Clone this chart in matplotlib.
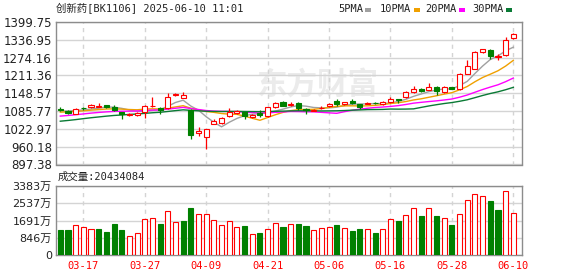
# -*- coding: utf-8 -*-
"""
K-Linien-Chart 创新药 [BK1106] mit gleitenden Durchschnitten und Volumen
"""

import numpy as np
import matplotlib
matplotlib.use("Agg")
import matplotlib.pyplot as plt
from matplotlib.patches import Rectangle

# ---------------- Daten -------------------------------------------------------
datum = ["03-12", "03-13", "03-14", "03-17", "03-18", "03-19", "03-20", "03-21",
         "03-24", "03-25", "03-26", "03-27", "03-28", "03-31", "04-01", "04-02",
         "04-03", "04-07", "04-08", "04-09", "04-10", "04-11", "04-14", "04-15",
         "04-16", "04-17", "04-18", "04-21", "04-22", "04-23", "04-24", "04-25",
         "04-28", "04-29", "04-30", "05-06", "05-07", "05-08", "05-09", "05-12",
         "05-13", "05-14", "05-15", "05-16", "05-19", "05-20", "05-21", "05-22",
         "05-23", "05-26", "05-27", "05-28", "05-29", "05-30", "06-03", "06-04",
         "06-05", "06-06", "06-09", "06-10"]

eroeffnung = [1094, 1086, 1076, 1098, 1100, 1101, 1106, 1100, 1081, 1071,
              1073, 1083, 1102, 1098, 1096, 1142, 1133, 1091, 1009, 994,
              1041, 1043, 1070, 1080, 1082, 1064, 1079, 1068, 1100, 1117,
              1106, 1114, 1093, 1087, 1095, 1102, 1121, 1110, 1123, 1110,
              1112, 1114, 1110, 1116, 1129, 1134, 1152, 1162, 1161, 1170,
              1153, 1170, 1165, 1218, 1235, 1294, 1301, 1276, 1282, 1343]
hoch = [1100, 1088, 1096, 1101, 1110, 1114, 1108, 1108, 1083, 1079,
        1082, 1108, 1135, 1100, 1150, 1150, 1154, 1094, 1031, 1023,
        1058, 1064, 1096, 1091, 1084, 1076, 1088, 1101, 1117, 1120,
        1118, 1116, 1095, 1093, 1103, 1113, 1128, 1119, 1129, 1112,
        1118, 1116, 1120, 1134, 1130, 1156, 1173, 1166, 1186, 1173,
        1174, 1172, 1221, 1267, 1297, 1304, 1303, 1288, 1347, 1362]
tief = [1086, 1077, 1074, 1090, 1098, 1100, 1098, 1085, 1058, 1067,
        1069, 1060, 1101, 1077, 1094, 1139, 1131, 988, 997, 952,
        1039, 1041, 1066, 1077, 1058, 1062, 1066, 1066, 1097, 1103,
        1104, 1091, 1075, 1085, 1093, 1100, 1102, 1108, 1111, 1093,
        1110, 1111, 1108, 1114, 1114, 1132, 1150, 1152, 1159, 1143,
        1150, 1163, 1159, 1216, 1233, 1290, 1270, 1265, 1280, 1340]
schluss = [1088, 1080, 1094, 1096, 1107, 1103, 1100, 1091, 1076, 1077,
           1079, 1103, 1105, 1090, 1136, 1146, 1143, 1002, 1017, 1021,
           1049, 1062, 1082, 1085, 1070, 1073, 1072, 1099, 1114, 1105,
           1111, 1097, 1088, 1091, 1098, 1111, 1109, 1117, 1115, 1101,
           1115, 1113, 1116, 1128, 1126, 1153, 1165, 1158, 1169, 1155,
           1172, 1165, 1216, 1245, 1293, 1303, 1281, 1279, 1335, 1357]

# Schlusskurse vor dem sichtbaren Zeitraum (für die gleitenden Durchschnitte)
schluss_vorher = [1000, 1005, 995, 1010, 1020, 1015, 1018, 1025, 1022, 1030,
                  1035, 1042, 1040, 1050, 1055, 1060, 1058, 1065, 1068, 1067,
                  1070, 1075, 1080, 1082, 1083, 1080, 1084, 1087, 1091]

# Volumen in 万
volumen = [1226, 1226, 1454, 1356, 1258, 1275, 1127, 1520, 1226, 915,
           1078, 1748, 1797, 1520, 2140, 1601, 1667, 2320, 2010, 2010,
           1716, 1470, 1650, 1356, 1422, 1029, 1095, 1275, 1569, 1373,
           1520, 1520, 1422, 1226, 1307, 1356, 1470, 1307, 1177, 1275,
           1258, 1095, 1258, 1748, 1667, 1945, 2288, 1912, 2288, 1912,
           1797, 1470, 2010, 2680, 2974, 2876, 2647, 2206, 3121, 2043.4084]

ma_tage = [5, 10, 20, 30]
ma_namen = ["5PMA", "10PMA", "20PMA", "30PMA"]
kurs_ticks = [897.38, 960.18, 1022.97, 1085.77, 1148.57, 1211.36, 1274.16, 1336.95, 1399.75]
vol_ticks = [0, 846, 1691, 2537, 3383]
datum_ticks = ["03-17", "03-27", "04-09", "04-21", "05-06", "05-16", "05-28", "06-10"]

# ---------------- Farben ------------------------------------------------------
rot = "#ff0000"
gruen = "#008000"
ma_farben = ["#a0a0a0", "#f0a000", "#ff00ff", "#0a7a35"]
gitter = "#d4d4d4"
rahmen = "#8c8c8c"
mono_cjk = ["DejaVu Sans Mono", "Noto Sans CJK SC"]
sans_cjk = ["DejaVu Sans", "Noto Sans CJK SC"]

W, H = 578, 276
fig = plt.figure(figsize=(W / 100, H / 100), dpi=100)
ax = fig.add_axes([56 / W, 1 - 164.5 / H, 466 / W, 142.5 / H])
ax_vol = fig.add_axes([56 / W, 1 - 255 / H, 466 / W, 69 / H])

x = np.arange(len(schluss))
xlim = (-0.56, len(schluss) + 0.13)
tick_pos = [datum.index(d) for d in datum_ticks]

# ---------------- Kurs-Chart --------------------------------------------------
alle = np.array(schluss_vorher + schluss, dtype=float)
for n, farbe in zip(ma_tage, ma_farben):
    ma = np.convolve(alle, np.ones(n) / n, mode="valid")[-len(schluss):]
    ax.plot(x, ma, color=farbe, lw=1, zorder=2)

breite = 0.66
for i in x:
    o, h, l, c = eroeffnung[i], hoch[i], tief[i], schluss[i]
    steigt = c >= o
    farbe = rot if steigt else gruen
    ax.vlines(i, l, h, color=farbe, lw=0.9, zorder=3)
    ax.add_patch(Rectangle((i - breite / 2, min(o, c)), breite, max(abs(c - o), 1.0),
                           facecolor="white" if steigt else farbe,
                           edgecolor=farbe, lw=0.8, zorder=4))

# Wasserzeichen
ax.text(0.56, 0.56, "东方财富", transform=ax.transAxes, ha="center", va="center",
        fontsize=22, fontweight="bold", color="#ebebeb", family="Noto Sans CJK SC",
        zorder=0)

ax.set_xlim(*xlim)
ax.set_ylim(kurs_ticks[0], kurs_ticks[-1])
ax.set_yticks(kurs_ticks)
ax.set_yticklabels([f"{v:.2f}" for v in kurs_ticks])
ax.set_xticks(tick_pos)
ax.set_xticklabels([])
ax.tick_params(axis="both", length=0, pad=3, labelsize=8.5, labelcolor="#222222")

# ---------------- Volumen-Chart -----------------------------------------------
vor = [schluss_vorher[-1]] + schluss[:-1]
vol_farben = [rot if c >= p else gruen for c, p in zip(schluss, vor)]
fuellung = ["white" if f == rot else f for f in vol_farben]
ax_vol.bar(x, volumen, width=breite, facecolor=fuellung, edgecolor=vol_farben,
           lw=0.8, zorder=3)

ax_vol.set_xlim(*xlim)
ax_vol.set_ylim(vol_ticks[0], vol_ticks[-1])
ax_vol.set_yticks(vol_ticks)
ax_vol.set_yticklabels([f"{v}万" if v else "0" for v in vol_ticks], family=sans_cjk)
ax_vol.set_xticks(tick_pos)
ax_vol.set_xticklabels(datum_ticks, color=rot, family="DejaVu Sans Mono", fontsize=7.5)
ax_vol.tick_params(axis="y", length=0, pad=3, labelsize=8, labelcolor="#222222")
ax_vol.tick_params(axis="x", length=0, pad=4)

for a in (ax, ax_vol):
    a.set_axisbelow(True)
    a.grid(axis="y", color=gitter, lw=1, ls="-")
    a.grid(axis="x", color=gitter, lw=1, ls=(0, (3, 3)))
    for s in a.spines.values():
        s.set_color(rahmen)
        s.set_linewidth(1)

# ---------------- Texte und Legende -------------------------------------------
fig.text(56 / W, 1 - 8.5 / H, "创新药[BK1106] 2025-06-10 11:01", ha="left", va="center",
         fontsize=7.5, family=mono_cjk, color="#222222")
fig.text(58 / W, 1 - 177 / H, f"成交量:{volumen[-1] * 1e4:.0f}", ha="left", va="center",
         fontsize=7.5, family=mono_cjk, color="#222222")

legende_x = [338, 380, 425, 472]
for lx, name, farbe in zip(legende_x, ma_namen, ma_farben):
    fig.text(lx / W, 1 - 9.5 / H, name, ha="left", va="center", fontsize=7.5,
             family="DejaVu Sans Mono", color="#222222")
    breite_txt = len(name) * 6.1
    fig.add_artist(Rectangle(((lx + breite_txt + 3) / W, 1 - 11.5 / H), 6 / W, 4 / H,
                             transform=fig.transFigure, facecolor=farbe, edgecolor="none"))

fig.savefig("out.png", dpi=100)
